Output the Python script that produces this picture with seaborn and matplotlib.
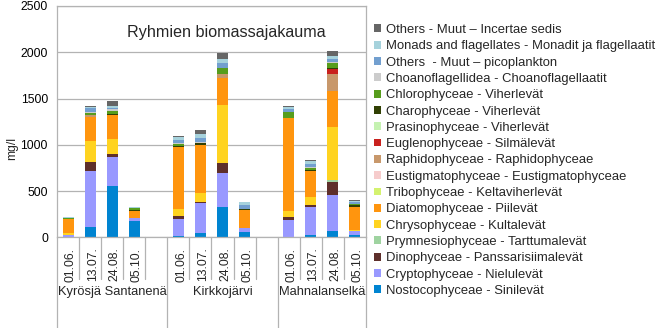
import numpy as np
import pandas as pd
import matplotlib
matplotlib.use("Agg")
import matplotlib.pyplot as plt
from matplotlib.patches import Patch
import seaborn as sns

# ---------------- data ----------------
groups = ["Kyrösjä Santanenä", "Kirkkojärvi", "Mahnalanselkä"]
dates = ["01.06.", "13.07.", "24.08.", "05.10."]

# series values, bars in order: group1 (4 dates), group2 (4 dates), group3 (4 dates)
others_incertae = [0, 8, 50, 0, 12, 40, 70, 3, 10, 12, 55, 5]
monads = [15, 20, 22, 14, 30, 42, 45, 35, 25, 35, 35, 20]
others_pico = [0, 40, 18, 0, 30, 45, 45, 38, 25, 35, 30, 22]
choano = [0, 10, 15, 0, 10, 10, 10, 0, 10, 8, 15, 0]
chloro = [8, 20, 32, 15, 25, 5, 62, 5, 55, 22, 55, 8]
charo = [5, 5, 10, 12, 12, 20, 0, 14, 5, 12, 5, 18]
prasino = [0, 0, 0, 0, 0, 0, 0, 0, 0, 0, 0, 0]
euglena = [0, 0, 0, 0, 0, 0, 0, 0, 0, 0, 58, 0]
raphido = [0, 15, 8, 0, 0, 0, 40, 0, 0, 0, 188, 0]
eustigmato = [0, 0, 0, 0, 0, 0, 0, 0, 0, 0, 0, 0]
tribo = [0, 0, 0, 0, 0, 0, 0, 0, 0, 0, 0, 0]
diatom = [150, 260, 253, 80, 670, 518, 290, 190, 1000, 280, 379, 250]
chryso = [18, 224, 162, 0, 69, 100, 625, 0, 72, 88, 577, 10]
prymnesio = [0, 0, 0, 0, 0, 0, 0, 0, 0, 0, 25, 0]
dino = [0, 101, 33, 0, 36, 10, 108, 0, 29, 14, 137, 0]
crypto = [25, 606, 312, 25, 184, 320, 370, 42, 185, 303, 386, 47]
nostoc = [0, 112, 557, 180, 14, 50, 330, 58, 3, 28, 72, 22]

series_names = [
    "Others - Muut – Incertae sedis",
    "Monads and flagellates - Monadit ja flagellaatit",
    "Others  - Muut – picoplankton",
    "Choanoflagellidea - Choanoflagellaatit",
    "Chlorophyceae - Viherlevät",
    "Charophyceae - Viherlevät",
    "Prasinophyceae - Viherlevät",
    "Euglenophyceae - Silmälevät",
    "Raphidophyceae - Raphidophyceae",
    "Eustigmatophyceae - Eustigmatophyceae",
    "Tribophyceae - Keltaviherlevät",
    "Diatomophyceae - Piilevät",
    "Chrysophyceae - Kultalevät",
    "Prymnesiophyceae - Tarttumalevät",
    "Dinophyceae - Panssarisiimalevät",
    "Cryptophyceae - Nielulevät",
    "Nostocophyceae - Sinilevät",
]
series_values = [others_incertae, monads, others_pico, choano, chloro, charo,
                 prasino, euglena, raphido, eustigmato, tribo, diatom, chryso,
                 prymnesio, dino, crypto, nostoc]
colors = ["#666666", "#a6d2dc", "#729fcf", "#cccccc", "#579d1c", "#314004",
          "#c5f2b1", "#c9211e", "#c8986b", "#f6cccc", "#d4f26f", "#ff950e",
          "#ffd320", "#9fd3a0", "#5e2f2b", "#9999ff", "#0084d1"]

# slot positions (an empty slot separates the groups)
positions = [0, 1, 2, 3, 5, 6, 7, 8, 10, 11, 12, 13]

rows = []
for name, vals in zip(series_names, series_values):
    for p, v in zip(positions, vals):
        rows.append({"pos": p, "value": v, "series": name})
df = pd.DataFrame(rows)

# ---------------- figure ----------------
sns.set_theme(style="white")
plt.rcParams["font.family"] = ["Liberation Sans", "DejaVu Sans"]

W, H = 672, 328
fig = plt.figure(figsize=(W / 100, H / 100), dpi=100)
ax_l, ax_r, ax_t, ax_b = 57, 366, 6, 237.3
ax = fig.add_axes([ax_l / W, (H - ax_b) / H, (ax_r - ax_l) / W, (ax_b - ax_t) / H])

sns.histplot(data=df, x="pos", weights="value", hue="series",
             hue_order=series_names, palette=colors, multiple="stack",
             discrete=True, shrink=0.5, linewidth=0, alpha=1,
             legend=False, ax=ax)

grid_c = "#b3b3b3"
ax.set_xlim(-0.5, 13.5)
ax.set_ylim(0, 2500)
ax.set_yticks(np.arange(0, 2501, 500))
ax.yaxis.grid(True, color=grid_c, linewidth=0.9)
ax.xaxis.grid(False)
ax.set_axisbelow(True)
ax.set_xticks([])
ax.set_xlabel("")
ax.set_ylabel("")
ax.tick_params(axis="y", length=0, pad=6.5, labelsize=8.7, labelcolor="#000000")
for s in ax.spines.values():
    s.set_color(grid_c)
    s.set_linewidth(0.9)

# hierarchical category axis
trans = ax.get_xaxis_transform()
ax_h = ax_b - ax_t
for b in np.arange(-0.5, 14, 1.0):
    long = b in (-0.5, 4.5, 9.5, 13.5)
    y_end = -((H - ax_b) / ax_h) if long else -((279 - ax_b) / ax_h)
    ax.plot([b, b], [0, y_end], color=grid_c, lw=0.9, transform=trans, clip_on=False)

for gi in range(3):
    for di, d in enumerate(dates):
        p = positions[gi * 4 + di]
        ax.text(p + 0.12, -((247.5 - ax_b) / ax_h), d, rotation=90, ha="center",
                va="top", fontsize=8.8, transform=trans)
group_centers = [2, 7, 11.5]
for gc, g in zip(group_centers, groups):
    ax.text(gc, -((291.7 - ax_b) / ax_h), g, ha="center", va="center",
            fontsize=9.3, transform=trans)

# title and axis label
fig.text(226 / W, 1 - 32 / H, "Ryhmien biomassajakauma", ha="center", va="center",
         fontsize=11.6)
fig.text(12 / W, 1 - 148 / H, "mg/l", rotation=90, ha="center", va="center",
         fontsize=8.7)

# legend
handles = [Patch(facecolor=c, edgecolor="none") for c in colors]
fig.legend(handles, series_names, loc="upper left",
           bbox_to_anchor=(374 / W, 1 - 24 / H), frameon=False, fontsize=9.4,
           handlelength=0.55, handleheight=0.55, handletextpad=0.38,
           labelspacing=0.33, borderpad=0, borderaxespad=0)

fig.savefig("out.png", dpi=100)
